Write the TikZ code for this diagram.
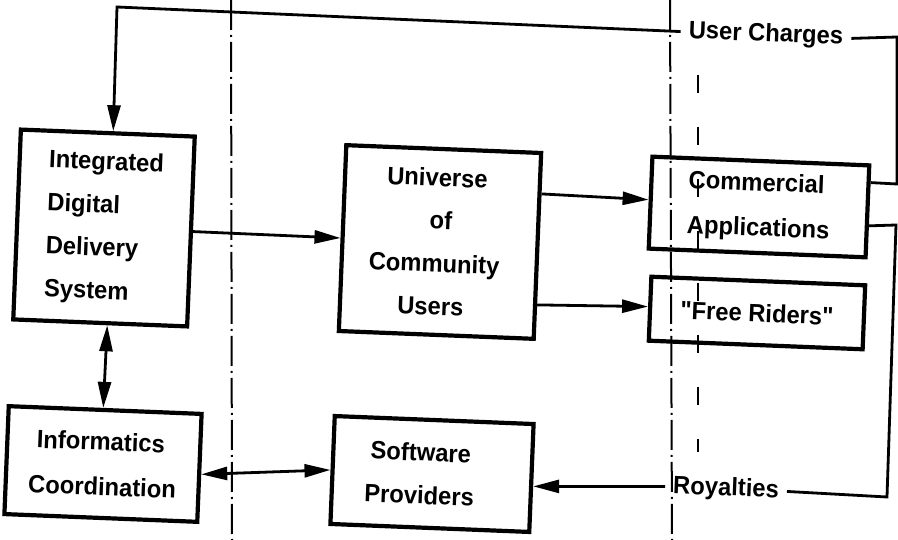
\documentclass[tikz,border=0pt]{standalone}
\usepackage{fontspec}
\setmainfont{Liberation Sans}[FakeStretch=0.95]
% same face without the TeX quote mapping, for straight double quotes
\newfontfamily\straightq{Liberation Sans}[FakeStretch=0.95]
\usetikzlibrary{arrows.meta,calc}
\begin{document}
\begin{tikzpicture}[x=1pt,y=1pt,
  box/.style={draw, line width=4.2pt, rotate=-2.3, inner sep=0pt,
    font=\bfseries\fontsize{25}{43}\selectfont},
  tag/.style={rotate=-2.3, inner xsep=8pt, inner ysep=3pt,
    font=\bfseries\fontsize{25}{30}\selectfont},
  link/.style={line width=2.8pt},
  tip/.style={-{Triangle[length=26pt,width=13pt]}},
  both/.style={{Triangle[length=26pt,width=13pt]}-{Triangle[length=26pt,width=13pt]}},
  divider/.style={line width=2pt, dash pattern=on 30pt off 5pt on 2pt off 5pt},
  faint/.style={line width=1.2pt, dash pattern=on 18pt off 34pt}]
\useasboundingbox (0,0) rectangle (898,-540);

% region separators
\draw[divider] (231,0) -- (232,-540);
\draw[divider] (670,0) -- (672,-540);
\draw[faint] (698,-75) -- (698,-452);

% boxes
\node[box, minimum width=174pt, minimum height=190pt, align=left] (idds) at (104,-228)
  {Integrated\\Digital\\Delivery\\System};
\node[box, minimum width=195pt, minimum height=186pt, align=center] (univ) at (440,-242)
  {Universe\kern10pt\\of\\Community\kern10pt\\Users\kern14pt};
\node[box, minimum width=217pt, minimum height=92pt, align=left,
  font=\bfseries\fontsize{25}{45}\selectfont] (comm) at (759,-207)
  {Commercial\\Applications};
\node[box, minimum width=214pt, minimum height=64pt,
  font=\straightq\bfseries\fontsize{25}{30}\selectfont] (free) at (757,-313)
  {"Free Riders"};
\node[box, minimum width=193pt, minimum height=108pt, align=center,
  font=\bfseries\fontsize{25}{45}\selectfont] (info) at (103,-464)
  {Informatics\kern6pt\\Coordination};
\node[box, minimum width=199pt, minimum height=108pt, align=center] (soft) at (432,-474)
  {Software\kern24pt\\Providers\kern24pt};

% flow labels
\node[tag] (uc) at (766,-35) {User Charges};
\node[tag] (roy) at (726,-489) {Royalties};

% corner points of the return loops
\coordinate (ucTL) at (117,-7);
\coordinate (ucR1) at (897,-37);
\coordinate (ucR2) at (897,-184);
\coordinate (rR1) at (896,-225);
\coordinate (rR2) at (887,-497);

% main flows
\draw[link,tip] (idds.east) -- (univ.west);
\draw[link,tip] ($(univ.north east)!0.226!(univ.south east)$) -- ($(comm.north west)!0.47!(comm.south west)$);
\draw[link,tip] ($(univ.north east)!0.81!(univ.south east)$) -- ($(free.north west)!0.47!(free.south west)$);
\draw[link,both] ($(idds.south west)!0.54!(idds.south east)$) -- ($(info.north west)!0.49!(info.north east)$);
\draw[link,both] ($(info.north east)!0.557!(info.south east)$) -- (soft.west);

% user charges loop
\draw[link] ($(comm.north east)!0.2!(comm.south east)$) -- (ucR2) -- (ucR1) -- (uc.east);
\draw[link,tip] (uc.west) -- (ucTL) -- ($(idds.north west)!0.53!(idds.north east)$);

% royalties loop
\draw[link] ($(comm.north east)!0.65!(comm.south east)$) -- (rR1) -- (rR2) -- (roy.east);
\draw[link,tip] (roy.west) -- ($(soft.north east)!0.574!(soft.south east)$);
\end{tikzpicture}
\end{document}
